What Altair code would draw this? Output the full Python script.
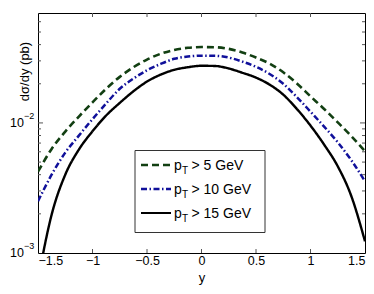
import altair as alt
import pandas as pd

FONT = "Liberation Sans"

# rapidity grid
y_grid = [-1.5, -1.375, -1.25, -1.125, -1.0, -0.875, -0.75, -0.625, -0.5, -0.375, -0.25, -0.125,
          0.0, 0.125, 0.25, 0.375, 0.5, 0.625, 0.75, 0.875, 1.0, 1.125, 1.25, 1.375, 1.5]

# dsigma/dy (pb)
pt5 = [4.22e-3, 6.31e-3, 8.58e-3, 1.12e-2, 1.44e-2, 1.83e-2, 2.26e-2, 2.68e-2, 3.07e-2, 3.40e-2, 3.64e-2, 3.78e-2,
       3.83e-2, 3.82e-2, 3.71e-2, 3.48e-2, 3.18e-2, 2.86e-2, 2.45e-2, 2.01e-2, 1.60e-2, 1.28e-2, 1.01e-2, 7.9e-3, 6.05e-3]
pt10 = [2.50e-3, 4.0e-3, 5.91e-3, 7.99e-3, 1.07e-2, 1.41e-2, 1.83e-2, 2.19e-2, 2.54e-2, 2.84e-2, 3.11e-2, 3.24e-2,
        3.29e-2, 3.28e-2, 3.18e-2, 2.96e-2, 2.70e-2, 2.38e-2, 2.00e-2, 1.58e-2, 1.22e-2, 9.37e-3, 7.10e-3, 5.16e-3, 3.56e-3]
pt15 = [6.2e-4, 1.97e-3, 4.0e-3, 6.24e-3, 8.63e-3, 1.14e-2, 1.425e-2, 1.75e-2, 2.08e-2, 2.35e-2, 2.56e-2, 2.68e-2,
        2.75e-2, 2.74e-2, 2.62e-2, 2.43e-2, 2.23e-2, 1.97e-2, 1.65e-2, 1.28e-2, 9.54e-3, 6.81e-3, 4.64e-3, 2.73e-3, 1.23e-3]

series_names = ["pT5", "pT10", "pT15"]
legend_rest = ["> 5 GeV", "> 10 GeV", "> 15 GeV"]
x_ticks = [-1.5, -1.0, -0.5, 0.0, 0.5, 1.0, 1.5]
y_major = [1e-3, 1e-2]
y_exp = ["\u22123", "\u22122"]
y_minor = [2e-3, 3e-3, 4e-3, 5e-3, 6e-3, 7e-3, 8e-3, 9e-3, 2e-2, 3e-2, 4e-2, 5e-2, 6e-2]

colors = ["#123f12", "#10109a", "#000000"]
dashes = [[7, 4], [6, 2.5, 1.5, 2.5], [1, 0]]
widths = [2.6, 2.4, 2.0]

rows = []
for name, vals in zip(series_names, [pt5, pt10, pt15]):
    for xv, vv in zip(y_grid, vals):
        rows.append({"x": xv, "v": vv, "series": name})
df = pd.DataFrame(rows)

W, H = 327, 240
xscale = alt.Scale(domain=[-1.5, 1.5], nice=False, zero=False)
yscale = alt.Scale(type="log", domain=[1e-3, 7e-2], nice=False)

x_axis = alt.Axis(values=x_ticks, format="~g", title="y", ticks=False, domain=False, grid=False,
                  labelFontSize=12.5, labelPadding=1, labelColor="#000", labelFont=FONT,
                  titleFontSize=13, titleFontWeight="normal", titlePadding=5, titleColor="#000", titleFont=FONT)
y_axis = alt.Axis(labels=False, ticks=False, domain=False, grid=False, title="d\u03c3/dy (pb)",
                  titleX=-14, titleY=58, titleAngle=-90, titleAlign="center", titleBaseline="middle",
                  titleFontSize=13, titleFontWeight="normal", titleColor="#000", titleFont=FONT)

xenc = alt.X("x:Q", scale=xscale, axis=x_axis)
yenc = alt.Y("v:Q", scale=yscale, axis=y_axis)

lines = alt.Chart(df).mark_line(clip=True, interpolate="monotone").encode(
    x=xenc,
    y=yenc,
    color=alt.Color("series:N", scale=alt.Scale(domain=series_names, range=colors), legend=None),
    strokeDash=alt.StrokeDash("series:N", scale=alt.Scale(domain=series_names, range=dashes), legend=None),
    strokeWidth=alt.StrokeWidth("series:N", scale=alt.Scale(domain=series_names, range=widths), legend=None),
)

minor_df = pd.DataFrame({"v": y_minor})
major_df = pd.DataFrame({"v": [1e-2]})
xt_df = pd.DataFrame({"x": x_ticks[1:-1]})
ylab_df = pd.DataFrame({"v": y_major, "e": y_exp})

tick_color = "#555"

ticks = [
    alt.Chart(minor_df).mark_rule(color=tick_color, strokeWidth=1).encode(y=yenc, x=alt.value(0), x2=alt.value(3)),
    alt.Chart(minor_df).mark_rule(color=tick_color, strokeWidth=1).encode(y=yenc, x=alt.value(W), x2=alt.value(W - 3)),
    alt.Chart(major_df).mark_rule(color=tick_color, strokeWidth=1).encode(y=yenc, x=alt.value(0), x2=alt.value(5)),
    alt.Chart(major_df).mark_rule(color=tick_color, strokeWidth=1).encode(y=yenc, x=alt.value(W), x2=alt.value(W - 5)),
    alt.Chart(xt_df).mark_rule(color=tick_color, strokeWidth=1).encode(x=xenc, y=alt.value(H), y2=alt.value(H - 4)),
    alt.Chart(xt_df).mark_rule(color=tick_color, strokeWidth=1).encode(x=xenc, y=alt.value(0), y2=alt.value(4)),
]

ylabels = [
    alt.Chart(ylab_df).mark_text(align="right", baseline="middle", fontSize=12.5, font=FONT, color="#000").encode(
        y=yenc, x=alt.value(-14), text=alt.value("10")),
    alt.Chart(ylab_df).mark_text(align="left", baseline="middle", fontSize=9, font=FONT, dy=-7, color="#000").encode(
        y=yenc, x=alt.value(-14), text="e:N"),
]

one = pd.DataFrame({"a": [0]})
legend_layers = [
    alt.Chart(one).mark_rect(fill="white", stroke="#333", strokeWidth=1).encode(
        x=alt.value(97), x2=alt.value(227), y=alt.value(137.5), y2=alt.value(219.5))
]
for i, (c, d, w, rest) in enumerate(zip(colors, dashes, widths, legend_rest)):
    yc = 152 + i * 24
    legend_layers.append(
        alt.Chart(one).mark_rule(color=c, strokeDash=d, strokeWidth=w).encode(
            x=alt.value(103), x2=alt.value(133), y=alt.value(yc)))
    legend_layers.append(
        alt.Chart(one).mark_text(align="left", baseline="alphabetic", fontSize=14, font=FONT, color="#000").encode(
            x=alt.value(136), y=alt.value(yc + 5), text=alt.value("p")))
    legend_layers.append(
        alt.Chart(one).mark_text(align="left", baseline="alphabetic", fontSize=10, font=FONT, color="#000").encode(
            x=alt.value(144), y=alt.value(yc + 9), text=alt.value("T")))
    legend_layers.append(
        alt.Chart(one).mark_text(align="left", baseline="alphabetic", fontSize=14, font=FONT, color="#000").encode(
            x=alt.value(153.5), y=alt.value(yc + 5), text=alt.value(rest)))

chart = alt.layer(lines, *ticks, *ylabels, *legend_layers).properties(
    width=W, height=H,
    autosize=alt.AutoSizeParams(type="none"),
    padding={"left": 30, "top": 5, "right": 1, "bottom": 33},
    background="white",
).configure_view(stroke="#000", strokeWidth=1)

chart.save("out.html", embed_options={"renderer": "svg", "actions": False})
